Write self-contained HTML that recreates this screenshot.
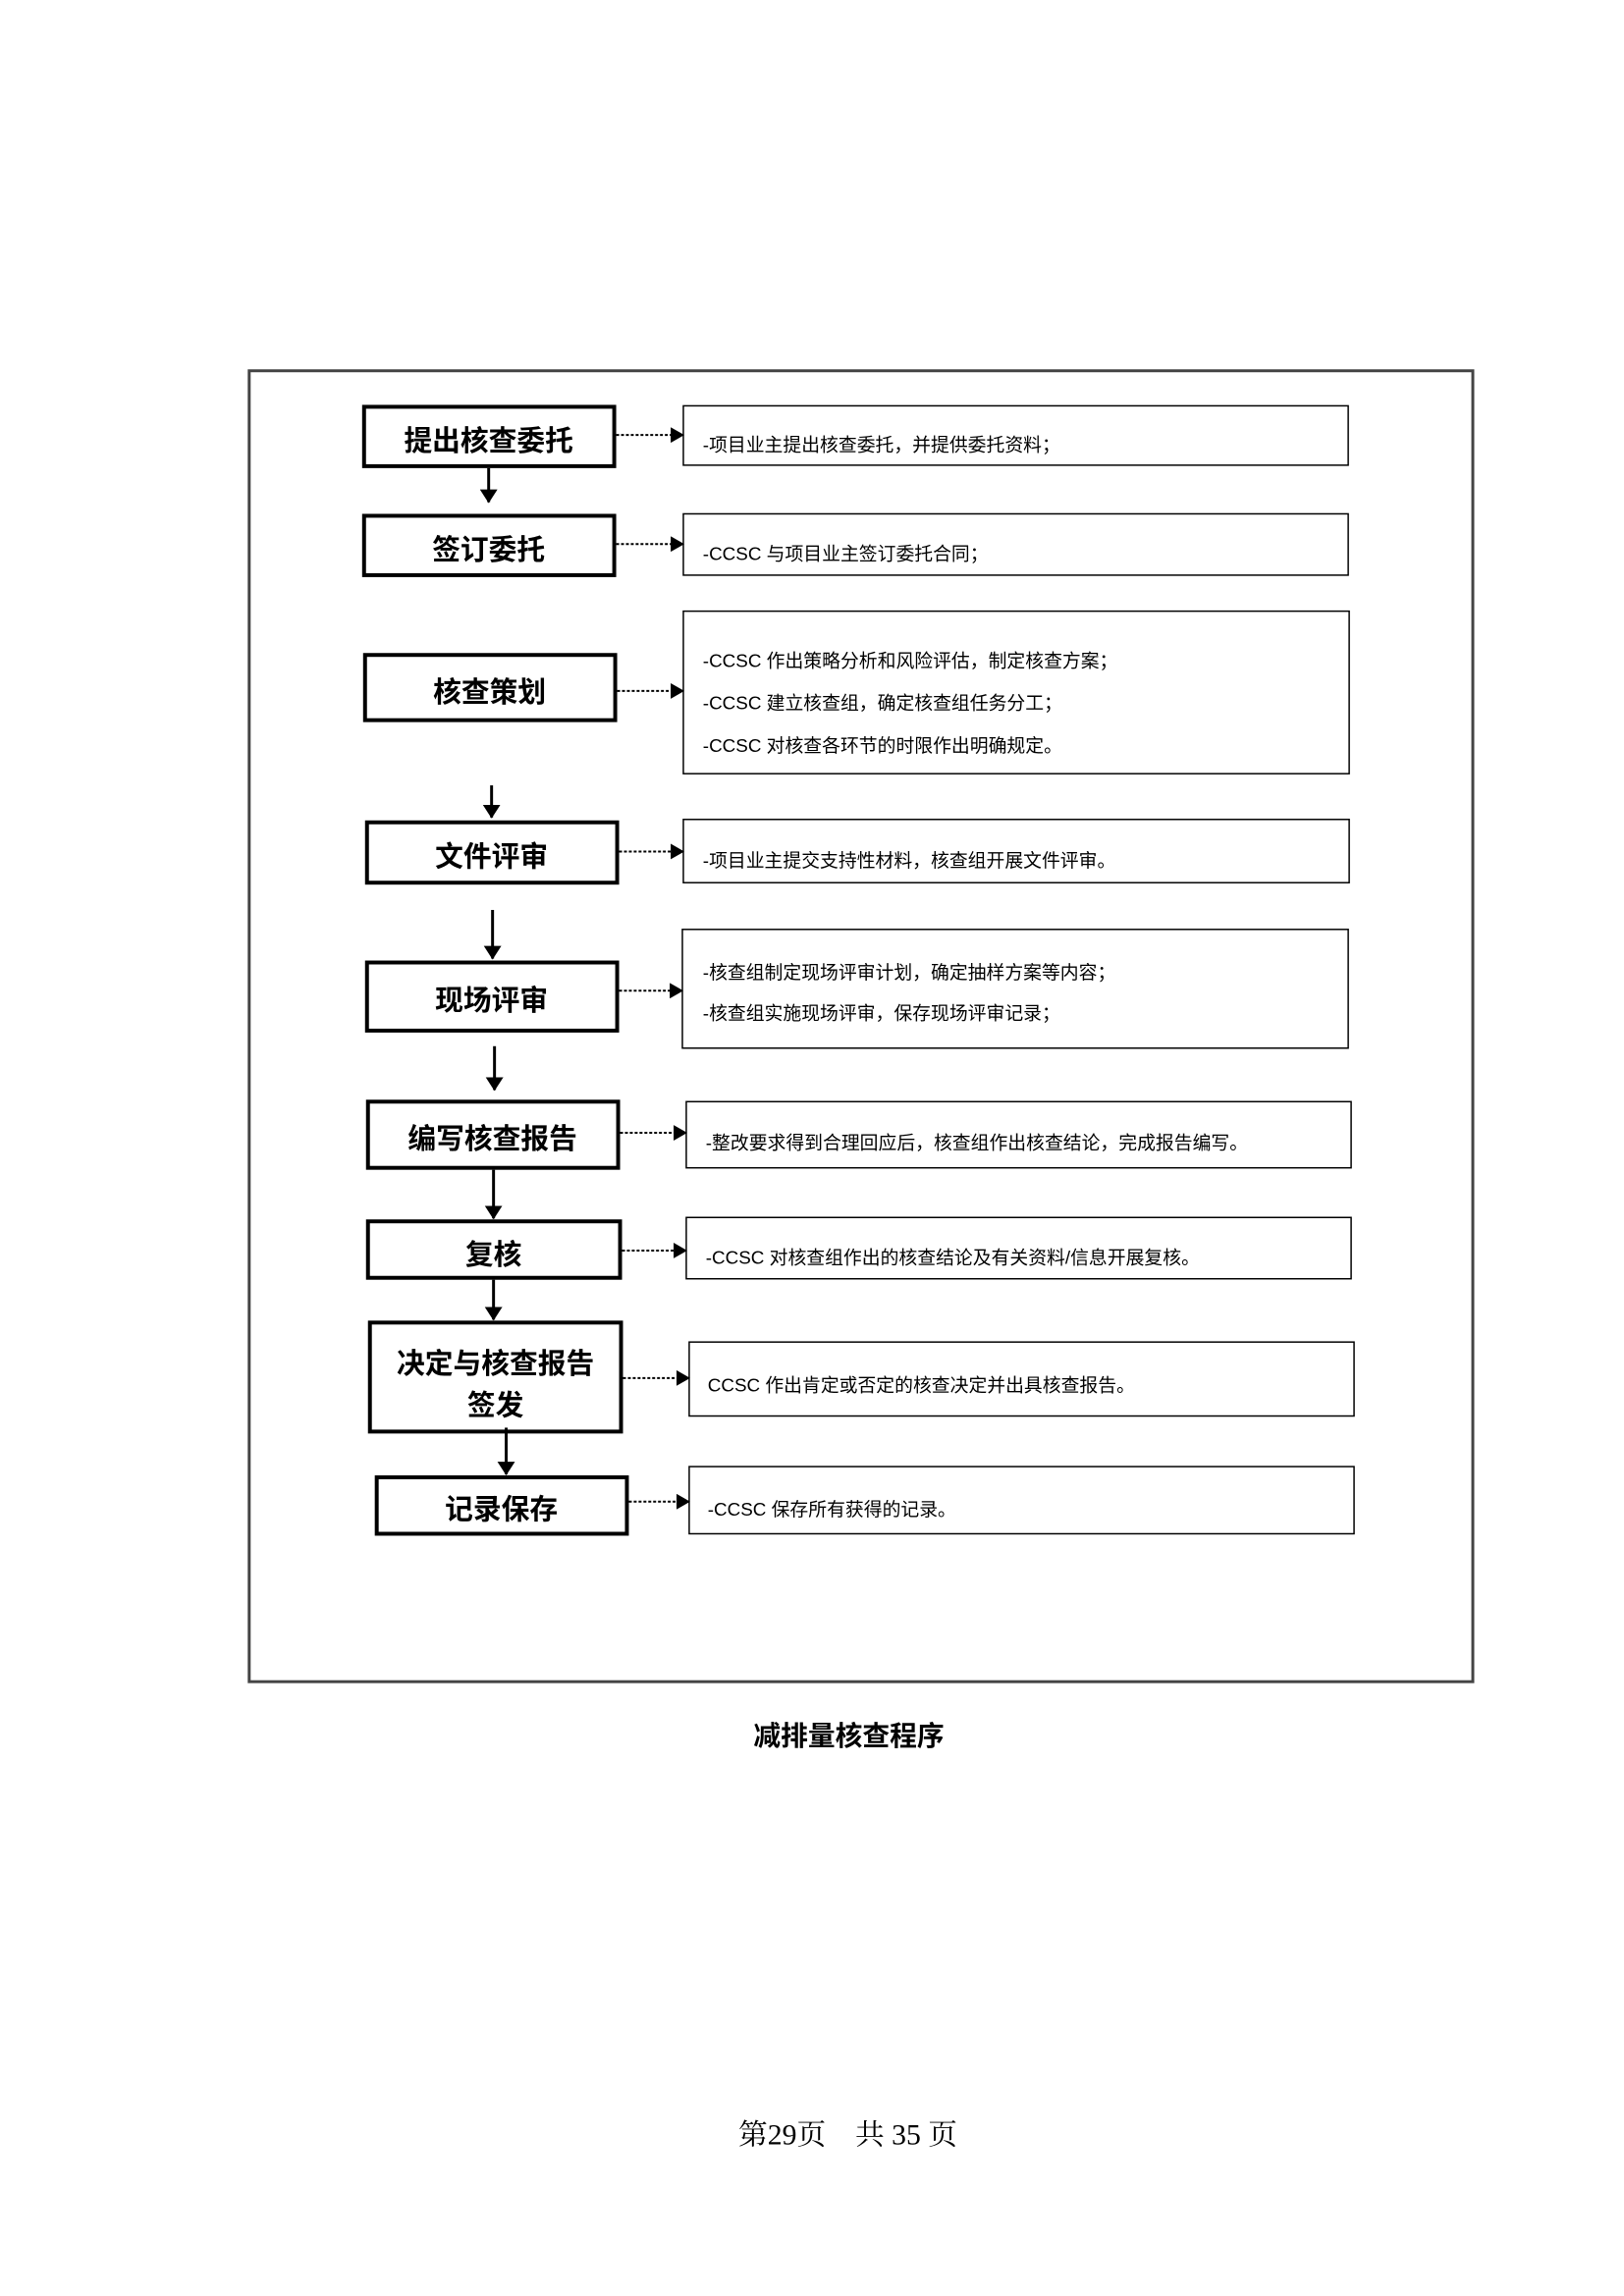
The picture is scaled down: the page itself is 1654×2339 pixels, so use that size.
<!DOCTYPE html>
<html><head><meta charset="utf-8"><style>
html,body{margin:0;padding:0;background:#fff;}
svg{display:block;}
.l{font-family:"Liberation Sans","Noto Sans CJK SC",sans-serif;font-weight:bold;font-size:29px;fill:#000;}
.r{font-family:"Liberation Sans","Noto Sans CJK SC",sans-serif;font-size:19px;fill:#000;}
</style></head><body>
<svg width="1654" height="2339" viewBox="0 0 1654 2339" xmlns="http://www.w3.org/2000/svg">
<defs>
<marker id="h" markerWidth="14" markerHeight="18" refX="13" refY="9" orient="auto" markerUnits="userSpaceOnUse"><path d="M0,0 L14,9 L0,18 Z" fill="#000"/></marker>
<marker id="d" markerWidth="14" markerHeight="16" refX="13" refY="8" orient="auto" markerUnits="userSpaceOnUse"><path d="M0,0 L14,8 L0,16 Z" fill="#000"/></marker>
</defs>
<g transform="scale(0.99142)">
<rect x="256" y="381" width="1257" height="1347" fill="none" stroke="#444" stroke-width="3"/>
<g fill="#fff" stroke="#000" stroke-width="4">
<rect x="374" y="418" width="257" height="61"/>
<rect x="374" y="530" width="257" height="61"/>
<rect x="375" y="673" width="257" height="67"/>
<rect x="377" y="845" width="257" height="62"/>
<rect x="377" y="989" width="257" height="70"/>
<rect x="378" y="1132" width="257" height="68"/>
<rect x="378" y="1255" width="259" height="58"/>
<rect x="380" y="1359" width="258" height="112"/>
<rect x="387" y="1518" width="257" height="58"/>
</g>
<g fill="#fff" stroke="#000" stroke-width="1.5">
<rect x="702" y="417" width="683" height="61"/>
<rect x="702" y="528" width="683" height="63"/>
<rect x="702" y="628" width="684" height="167"/>
<rect x="702" y="842" width="684" height="65"/>
<rect x="701" y="955" width="684" height="122"/>
<rect x="705" y="1132" width="683" height="68"/>
<rect x="705" y="1251" width="683" height="63"/>
<rect x="708" y="1379" width="683" height="76"/>
<rect x="708" y="1507" width="683" height="69"/>
</g>
<g class="l" text-anchor="middle" dominant-baseline="central">
<text x="502" y="454">提出核查委托</text>
<text x="502" y="566">签订委托</text>
<text x="503" y="712">核查策划</text>
<text x="505" y="881">文件评审</text>
<text x="505" y="1029">现场评审</text>
<text x="506" y="1171">编写核查报告</text>
<text x="507" y="1290">复核</text>
<text x="509" y="1402">决定与核查报告</text>
<text x="509" y="1445">签发</text>
<text x="515" y="1552">记录保存</text>
</g>
<g class="r" dominant-baseline="central">
<text x="722" y="457">-项目业主提出核查委托，并提供委托资料；</text>
<text x="722" y="569">-CCSC 与项目业主签订委托合同；</text>
<text x="722" y="679">-CCSC 作出策略分析和风险评估，制定核查方案；</text>
<text x="722" y="722">-CCSC 建立核查组，确定核查组任务分工；</text>
<text x="722" y="766">-CCSC 对核查各环节的时限作出明确规定。</text>
<text x="722" y="884">-项目业主提交支持性材料，核查组开展文件评审。</text>
<text x="722" y="999">-核查组制定现场评审计划，确定抽样方案等内容；</text>
<text x="722" y="1041">-核查组实施现场评审，保存现场评审记录；</text>
<text x="725" y="1174">-整改要求得到合理回应后，核查组作出核查结论，完成报告编写。</text>
<text x="725" y="1292">-CCSC 对核查组作出的核查结论及有关资料/信息开展复核。</text>
<text x="727" y="1423">CCSC 作出肯定或否定的核查决定并出具核查报告。</text>
<text x="727" y="1551">-CCSC 保存所有获得的记录。</text>
</g>
<g stroke="#000" stroke-width="2" stroke-dasharray="3,2" marker-end="url(#d)">
<line x1="633" y1="447" x2="702" y2="447"/>
<line x1="633" y1="559" x2="702" y2="559"/>
<line x1="634" y1="710" x2="702" y2="710"/>
<line x1="636" y1="875" x2="702" y2="875"/>
<line x1="636" y1="1018" x2="701" y2="1018"/>
<line x1="637" y1="1164" x2="705" y2="1164"/>
<line x1="639" y1="1285" x2="705" y2="1285"/>
<line x1="640" y1="1416" x2="708" y2="1416"/>
<line x1="646" y1="1543" x2="708" y2="1543"/>
</g>
<g stroke="#000" stroke-width="3" marker-end="url(#h)">
<line x1="502" y1="481" x2="502" y2="516"/>
<line x1="505" y1="807" x2="505" y2="840"/>
<line x1="506" y1="935" x2="506" y2="985"/>
<line x1="508" y1="1075" x2="508" y2="1120"/>
<line x1="507" y1="1202" x2="507" y2="1252"/>
<line x1="507" y1="1315" x2="507" y2="1356"/>
<line x1="520" y1="1467" x2="520" y2="1515"/>
</g>
<text x="872" y="1784" text-anchor="middle" dominant-baseline="central" style="font-family:'Liberation Sans','Noto Sans CJK SC',sans-serif;font-weight:bold;font-size:28px;">减排量核查程序</text>
<text x="871" y="2194" text-anchor="middle" dominant-baseline="central" style="font-family:'Liberation Serif','Noto Serif CJK SC',serif;font-size:30px;" xml:space="preserve">第29页    共 35 页</text>
</g>
</svg>
</body></html>
